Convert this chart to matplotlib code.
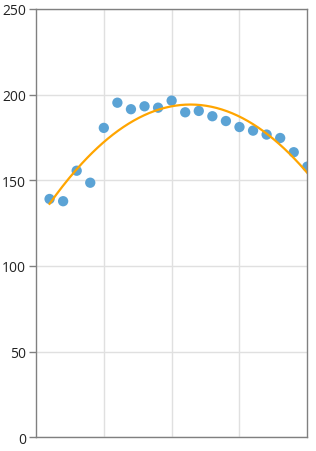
import numpy as np
import matplotlib
matplotlib.use("Agg")
import matplotlib.pyplot as plt

x_vals = list(range(1, 21))
y_vals = [139.1, 137.8, 155.6, 148.6, 180.6, 195.3, 191.5, 193.2, 192.4, 196.5,
          189.7, 190.5, 187.4, 184.6, 181.1, 179.0, 176.7, 174.7, 166.4, 158.0]
y_ticks = [0, 50, 100, 150, 200, 250]
x_grid = [5, 10, 15]

POINT_COLOR = "#5ba3d5"
TREND_COLOR = "#ffa500"
AXIS_COLOR = "#808080"
GRID_COLOR = "#e0e0e0"

plt.rcParams["font.family"] = ["Open Sans", "DejaVu Sans"]

fig = plt.figure(figsize=(3.16, 4.52), dpi=100)
ax = fig.add_axes([0.1139, 0.0303, 0.8586, 0.9476])

ax.scatter(x_vals, y_vals, s=55, color=POINT_COLOR, edgecolors="none", zorder=3)

# quadratic trend line through the points, drawn over the markers
coef = np.polyfit(x_vals, y_vals, 2)
xs = np.linspace(x_vals[0], x_vals[-1], 200)
ax.plot(xs, np.polyval(coef, xs), color=TREND_COLOR, lw=1.6, zorder=4)

ax.set_xlim(0, 20)
ax.set_ylim(0, 250)
ax.set_yticks(y_ticks)
ax.set_xticks(x_grid)
ax.set_xticklabels([])
ax.tick_params(axis="x", length=0)
ax.tick_params(axis="y", length=5, width=1, color=AXIS_COLOR, labelsize=10,
               labelcolor="#222222", pad=2)
ax.grid(True, color=GRID_COLOR, lw=1)
ax.set_axisbelow(True)
for side in ["left", "right", "top", "bottom"]:
    ax.spines[side].set_color(AXIS_COLOR)
    ax.spines[side].set_linewidth(1)
    ax.spines[side].set_zorder(5)

fig.savefig("out.png", dpi=100)
